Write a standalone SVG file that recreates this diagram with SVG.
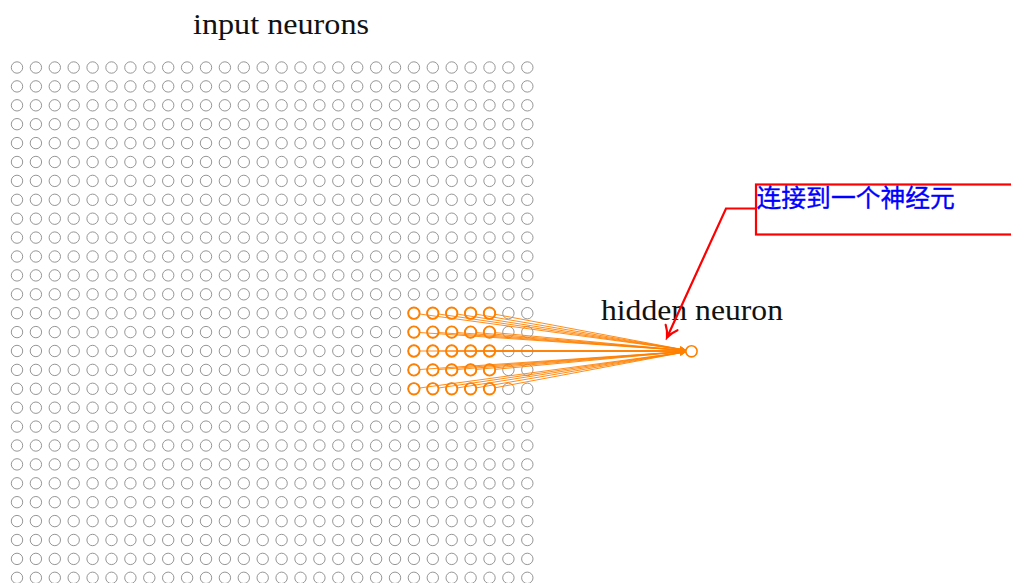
<svg xmlns="http://www.w3.org/2000/svg" xmlns:xlink="http://www.w3.org/1999/xlink" width="1011" height="583" viewBox="0 0 1011 583">
<style>
.gray{fill:none;stroke:#8a8a8a;stroke-width:0.9}
.orn{fill:none;stroke:#ff8000;stroke-width:1.9}
.conn{stroke:#ff8000;stroke-width:0.9;fill:none;marker-end:url(#tipO)}
.lbl{font-family:"Liberation Serif","Times New Roman",serif;font-size:29px;fill:#111}
.red{stroke:#ff0000;stroke-width:2.2;fill:none}
.cjk{font-family:"Noto Sans CJK SC","Noto Sans",sans-serif;font-size:24.8px;fill:#0000ff;stroke:#0000ff;stroke-width:0.35}
</style>
<defs>
<marker id="tipO" markerUnits="userSpaceOnUse" markerWidth="8" markerHeight="8" refX="6" refY="3" orient="auto" viewBox="0 0 8 6">
<path d="M0,0 L6,3 L0,6 L1.2,3 z" fill="#ff8000"/>
</marker>
<marker id="tipR" markerUnits="userSpaceOnUse" markerWidth="16" markerHeight="16" refX="13" refY="8" orient="auto" viewBox="0 0 16 16">
<path d="M2,1.5 Q7,6 13,8 Q7,10 2,14.5" fill="none" stroke="#ff0000" stroke-width="2.2" stroke-linecap="round"/>
</marker>
<g id="row">
<circle class="gray" cx="17" cy="67.5" r="5.7"/><circle class="gray" cx="35.9" cy="67.5" r="5.7"/><circle class="gray" cx="54.8" cy="67.5" r="5.7"/><circle class="gray" cx="73.7" cy="67.5" r="5.7"/><circle class="gray" cx="92.6" cy="67.5" r="5.7"/><circle class="gray" cx="111.5" cy="67.5" r="5.7"/><circle class="gray" cx="130.4" cy="67.5" r="5.7"/><circle class="gray" cx="149.3" cy="67.5" r="5.7"/><circle class="gray" cx="168.2" cy="67.5" r="5.7"/><circle class="gray" cx="187.1" cy="67.5" r="5.7"/><circle class="gray" cx="206" cy="67.5" r="5.7"/><circle class="gray" cx="224.9" cy="67.5" r="5.7"/><circle class="gray" cx="243.8" cy="67.5" r="5.7"/><circle class="gray" cx="262.7" cy="67.5" r="5.7"/><circle class="gray" cx="281.6" cy="67.5" r="5.7"/><circle class="gray" cx="300.5" cy="67.5" r="5.7"/><circle class="gray" cx="319.4" cy="67.5" r="5.7"/><circle class="gray" cx="338.3" cy="67.5" r="5.7"/><circle class="gray" cx="357.2" cy="67.5" r="5.7"/><circle class="gray" cx="376.1" cy="67.5" r="5.7"/><circle class="gray" cx="395" cy="67.5" r="5.7"/><circle class="gray" cx="413.9" cy="67.5" r="5.7"/><circle class="gray" cx="432.8" cy="67.5" r="5.7"/><circle class="gray" cx="451.7" cy="67.5" r="5.7"/><circle class="gray" cx="470.6" cy="67.5" r="5.7"/><circle class="gray" cx="489.5" cy="67.5" r="5.7"/><circle class="gray" cx="508.4" cy="67.5" r="5.7"/><circle class="gray" cx="527.3" cy="67.5" r="5.7"/>
</g>
</defs>
<rect width="1011" height="583" fill="#ffffff"/>
<g id="input-neurons">
<use xlink:href="#row" href="#row"/>
<use xlink:href="#row" href="#row" transform="translate(0,18.9)"/>
<use xlink:href="#row" href="#row" transform="translate(0,37.8)"/>
<use xlink:href="#row" href="#row" transform="translate(0,56.7)"/>
<use xlink:href="#row" href="#row" transform="translate(0,75.6)"/>
<use xlink:href="#row" href="#row" transform="translate(0,94.5)"/>
<use xlink:href="#row" href="#row" transform="translate(0,113.4)"/>
<use xlink:href="#row" href="#row" transform="translate(0,132.3)"/>
<use xlink:href="#row" href="#row" transform="translate(0,151.2)"/>
<use xlink:href="#row" href="#row" transform="translate(0,170.1)"/>
<use xlink:href="#row" href="#row" transform="translate(0,189)"/>
<use xlink:href="#row" href="#row" transform="translate(0,207.9)"/>
<use xlink:href="#row" href="#row" transform="translate(0,226.8)"/>
<use xlink:href="#row" href="#row" transform="translate(0,245.7)"/>
<use xlink:href="#row" href="#row" transform="translate(0,264.6)"/>
<use xlink:href="#row" href="#row" transform="translate(0,283.5)"/>
<use xlink:href="#row" href="#row" transform="translate(0,302.4)"/>
<use xlink:href="#row" href="#row" transform="translate(0,321.3)"/>
<use xlink:href="#row" href="#row" transform="translate(0,340.2)"/>
<use xlink:href="#row" href="#row" transform="translate(0,359.1)"/>
<use xlink:href="#row" href="#row" transform="translate(0,378)"/>
<use xlink:href="#row" href="#row" transform="translate(0,396.9)"/>
<use xlink:href="#row" href="#row" transform="translate(0,415.8)"/>
<use xlink:href="#row" href="#row" transform="translate(0,434.7)"/>
<use xlink:href="#row" href="#row" transform="translate(0,453.6)"/>
<use xlink:href="#row" href="#row" transform="translate(0,472.5)"/>
<use xlink:href="#row" href="#row" transform="translate(0,491.4)"/>
<use xlink:href="#row" href="#row" transform="translate(0,510.3)"/>
</g>
<g id="connectors">
<line class="conn" x1="419.6" y1="314.0" x2="685.8" y2="350.1"/>
<line class="conn" x1="438.5" y1="314.0" x2="685.8" y2="350.1"/>
<line class="conn" x1="457.4" y1="314.1" x2="685.8" y2="350.1"/>
<line class="conn" x1="476.3" y1="314.2" x2="685.8" y2="350.1"/>
<line class="conn" x1="495.2" y1="314.25" x2="685.8" y2="350.1"/>
<line class="conn" x1="419.6" y1="332.5" x2="685.8" y2="350.55"/>
<line class="conn" x1="438.5" y1="332.5" x2="685.8" y2="350.55"/>
<line class="conn" x1="457.4" y1="332.55" x2="685.8" y2="350.55"/>
<line class="conn" x1="476.3" y1="332.6" x2="685.8" y2="350.55"/>
<line class="conn" x1="495.2" y1="332.65" x2="685.8" y2="350.55"/>
<line class="conn" x1="419.6" y1="351" x2="685.8" y2="351"/>
<line class="conn" x1="438.5" y1="351" x2="685.8" y2="351"/>
<line class="conn" x1="457.4" y1="351" x2="685.8" y2="351"/>
<line class="conn" x1="476.3" y1="351" x2="685.8" y2="351"/>
<line class="conn" x1="495.2" y1="351" x2="685.8" y2="351"/>
<line class="conn" x1="419.6" y1="369.5" x2="685.8" y2="351.45"/>
<line class="conn" x1="438.5" y1="369.5" x2="685.8" y2="351.45"/>
<line class="conn" x1="457.4" y1="369.45" x2="685.8" y2="351.45"/>
<line class="conn" x1="476.3" y1="369.4" x2="685.8" y2="351.45"/>
<line class="conn" x1="495.2" y1="369.35" x2="685.8" y2="351.45"/>
<line class="conn" x1="419.6" y1="388.0" x2="685.8" y2="351.9"/>
<line class="conn" x1="438.5" y1="388.0" x2="685.8" y2="351.9"/>
<line class="conn" x1="457.4" y1="387.9" x2="685.8" y2="351.9"/>
<line class="conn" x1="476.3" y1="387.85" x2="685.8" y2="351.9"/>
<line class="conn" x1="495.2" y1="387.75" x2="685.8" y2="351.9"/>
</g>
<g id="receptive-field">
<circle class="orn" cx="413.9" cy="313.2" r="5.7"/><circle class="orn" cx="432.8" cy="313.2" r="5.7"/><circle class="orn" cx="451.7" cy="313.2" r="5.7"/><circle class="orn" cx="470.6" cy="313.2" r="5.7"/><circle class="orn" cx="489.5" cy="313.2" r="5.7"/>
<circle class="orn" cx="413.9" cy="332.1" r="5.7"/><circle class="orn" cx="432.8" cy="332.1" r="5.7"/><circle class="orn" cx="451.7" cy="332.1" r="5.7"/><circle class="orn" cx="470.6" cy="332.1" r="5.7"/><circle class="orn" cx="489.5" cy="332.1" r="5.7"/>
<circle class="orn" cx="413.9" cy="351" r="5.7"/><circle class="orn" cx="432.8" cy="351" r="5.7"/><circle class="orn" cx="451.7" cy="351" r="5.7"/><circle class="orn" cx="470.6" cy="351" r="5.7"/><circle class="orn" cx="489.5" cy="351" r="5.7"/>
<circle class="orn" cx="413.9" cy="369.9" r="5.7"/><circle class="orn" cx="432.8" cy="369.9" r="5.7"/><circle class="orn" cx="451.7" cy="369.9" r="5.7"/><circle class="orn" cx="470.6" cy="369.9" r="5.7"/><circle class="orn" cx="489.5" cy="369.9" r="5.7"/>
<circle class="orn" cx="413.9" cy="388.8" r="5.7"/><circle class="orn" cx="432.8" cy="388.8" r="5.7"/><circle class="orn" cx="451.7" cy="388.8" r="5.7"/><circle class="orn" cx="470.6" cy="388.8" r="5.7"/><circle class="orn" cx="489.5" cy="388.8" r="5.7"/>
</g>
<g id="hidden-neuron">
<circle cx="691.5" cy="351.3" r="5.6" fill="#ffffff" stroke="#ff8000" stroke-width="1.6"/>
</g>
<g id="labels">
<text class="lbl" x="193" y="33.5" textLength="176" lengthAdjust="spacingAndGlyphs">input neurons</text>
<text class="lbl" x="601" y="320" textLength="182" lengthAdjust="spacingAndGlyphs">hidden neuron</text>
</g>
<g id="callout">
<rect class="red" x="756" y="184.5" width="270" height="50" fill="none"/>
<path class="red" d="M756,208.5 L726,208.5 L667,337.5" marker-end="url(#tipR)"/>
<text class="cjk" x="756.5" y="206.5">连接到一个神经元</text>
</g>
</svg>
